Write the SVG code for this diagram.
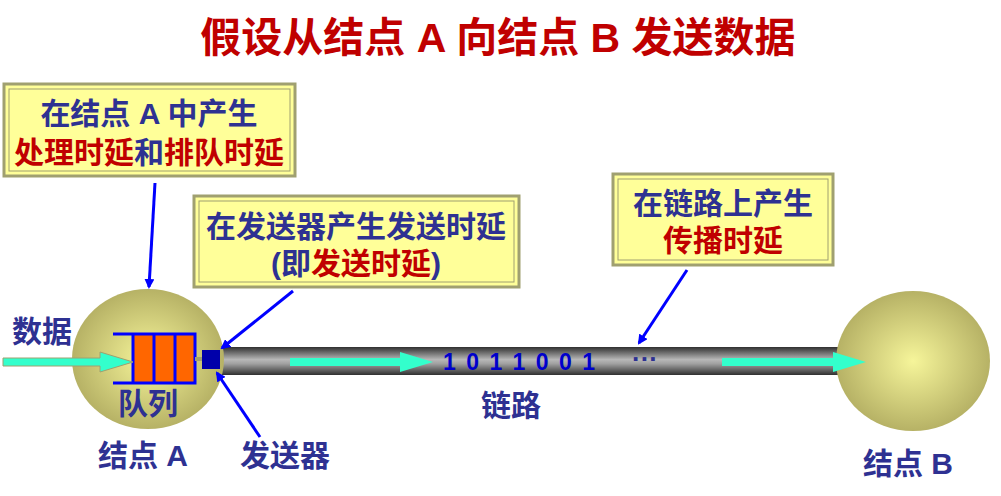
<svg xmlns="http://www.w3.org/2000/svg" width="1001" height="496" viewBox="0 0 1001 496">
<style>
text{font-family:"Liberation Sans","Noto Sans CJK SC",sans-serif;font-weight:bold}
.n{fill:#2e3192}.r{fill:#c00000}
.box{fill:#ffff99;stroke:#a0a070;stroke-width:3}
.inner{fill:none;stroke:#a0a070;stroke-width:1}
.bl{stroke:#0000ff;stroke-width:3;fill:none;marker-end:url(#ah)}
</style>
<defs>
<radialGradient id="ball" cx="0.5" cy="0.5" r="0.55"><stop offset="0" stop-color="#f6f59a"/><stop offset="1" stop-color="#b0ab60"/></radialGradient>
<linearGradient id="pipe" x1="0" y1="0" x2="0" y2="1"><stop offset="0" stop-color="#303030"/><stop offset="0.45" stop-color="#b8b8b8"/><stop offset="0.6" stop-color="#a0a0a0"/><stop offset="1" stop-color="#303030"/></linearGradient>
<marker id="ah" markerWidth="10" markerHeight="10" refX="8" refY="5" orient="auto" markerUnits="userSpaceOnUse"><path d="M0,0 L10,5 L0,10 z" fill="#0000ff"/></marker>
</defs>
<text x="498" y="52" font-size="41" text-anchor="middle" class="r">假设从结点 A 向结点 B 发送数据</text>
<g id="link"><rect x="205" y="347" width="635" height="28" fill="url(#pipe)"/>
<text x="520" y="370" font-size="23" text-anchor="middle" fill="#0000cc" letter-spacing="2">1 0 1 1 0 0 1</text>
<text x="645" y="368" font-size="26" text-anchor="middle" fill="#2e3192">···</text>
<text x="511" y="416" font-size="30" text-anchor="middle" class="n">链路</text></g>
<g id="nodeA"><ellipse cx="148" cy="359" rx="76" ry="70" fill="url(#ball)"/>
<rect x="133" y="335" width="62" height="47" fill="#ff6600"/>
<path d="M113,334 H195 V383 H113 M154,335 V382 M175,335 V382 M133,335 V382" fill="none" stroke="#0000ff" stroke-width="3"/>
<text x="148" y="414" font-size="30" text-anchor="middle" class="n">队列</text>
<text x="143" y="466" font-size="30" text-anchor="middle" class="n">结点 A</text></g>
<g id="sender"><rect x="195" y="357" width="10" height="4" fill="#a0a070"/><rect x="202" y="350" width="18" height="19" fill="#0000aa"/>
<text x="285" y="466" font-size="30" text-anchor="middle" class="n">发送器</text></g>
<g id="nodeB"><ellipse cx="913" cy="361" rx="77" ry="70" fill="url(#ball)"/>
<text x="908" y="474" font-size="30" text-anchor="middle" class="n">结点 B</text></g>
<g id="data"><text x="42" y="342" font-size="30" text-anchor="middle" class="n">数据</text></g>
<g id="connectors">
<path d="M3,358 H100 V352 L133,362 L100,372 V366 H3 z" fill="#33ffcc" stroke="#a0a070" stroke-width="1"/>
<path d="M290,358 H400 V352 L433,362 L400,372 V366 H290 z" fill="#33ffcc"/>
<path d="M722,358 H833 V352 L866,362 L833,372 V366 H722 z" fill="#33ffcc"/>
<line x1="155" y1="183" x2="149" y2="287" class="bl"/>
<line x1="293" y1="291" x2="222" y2="348" class="bl"/>
<line x1="260" y1="437" x2="217" y2="373" class="bl"/>
<line x1="687" y1="270" x2="639" y2="343" class="bl"/>
</g>
<g id="box1"><rect x="4" y="84" width="291" height="92" class="box"/><rect x="9" y="89" width="281" height="82" class="inner"/>
<text x="149" y="124" font-size="30" text-anchor="middle" class="n">在结点 A 中产生</text>
<text x="149" y="163" font-size="30" text-anchor="middle"><tspan class="r">处理时延</tspan><tspan class="n">和</tspan><tspan class="r">排队时延</tspan></text></g>
<g id="box2"><rect x="194" y="196" width="325" height="91" class="box"/><rect x="199" y="201" width="315" height="81" class="inner"/>
<text x="356" y="237" font-size="30" text-anchor="middle" class="n">在发送器产生发送时延</text>
<text x="356" y="274" font-size="30" text-anchor="middle"><tspan class="n">(即</tspan><tspan class="r">发送时延</tspan><tspan class="n">)</tspan></text></g>
<g id="box3"><rect x="613" y="174" width="220" height="91" class="box"/><rect x="618" y="179" width="210" height="81" class="inner"/>
<text x="723" y="214" font-size="30" text-anchor="middle" class="n">在链路上产生</text>
<text x="723" y="251" font-size="30" text-anchor="middle" class="r">传播时延</text></g>
</svg>
